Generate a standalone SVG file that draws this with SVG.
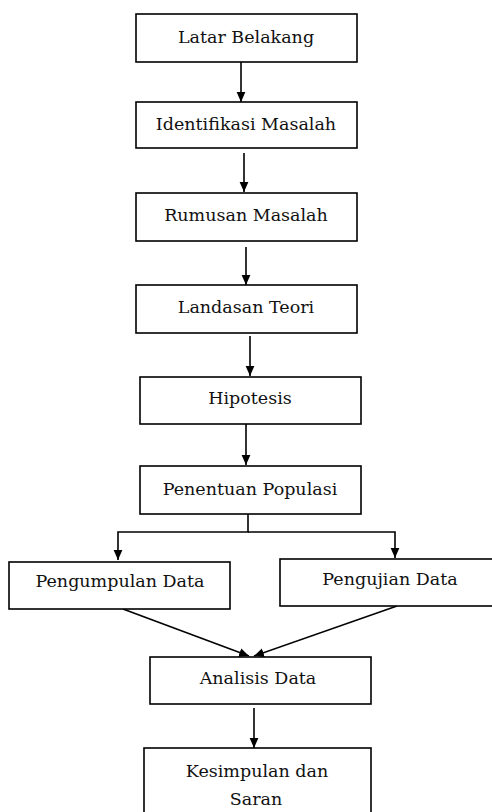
<svg xmlns="http://www.w3.org/2000/svg" width="492" height="812" viewBox="0 0 492 812">
<style>
.box{fill:#fff;stroke:#000;stroke-width:1.6}
.lbl{font-family:"DejaVu Serif","Liberation Serif",serif;font-size:17.5px;fill:#111;text-anchor:middle}
.ln{fill:none;stroke:#000;stroke-width:1.6}
</style>
<defs>
<marker id="ah" markerUnits="userSpaceOnUse" markerWidth="11" markerHeight="11" viewBox="0 0 10 10" refX="9" refY="5" orient="auto">
<path d="M0,1 L9,5 L0,9 Z" fill="#000"/>
</marker>
</defs>
<rect width="492" height="812" fill="#fff"/>
<g id="connectors">
<line class="ln" x1="241" y1="62" x2="241" y2="102" marker-end="url(#ah)"/>
<line class="ln" x1="244" y1="153" x2="244" y2="192" marker-end="url(#ah)"/>
<line class="ln" x1="246" y1="247" x2="246" y2="285" marker-end="url(#ah)"/>
<line class="ln" x1="250" y1="336" x2="250" y2="376" marker-end="url(#ah)"/>
<line class="ln" x1="246" y1="424" x2="246" y2="465" marker-end="url(#ah)"/>
<polyline class="ln" points="248,514 248,532 118,532 118,560" marker-end="url(#ah)"/>
<polyline class="ln" points="248,532 395,532 395,558" marker-end="url(#ah)"/>
<line class="ln" x1="123" y1="609" x2="249" y2="656" marker-end="url(#ah)"/>
<line class="ln" x1="397" y1="606" x2="254" y2="656" marker-end="url(#ah)"/>
<line class="ln" x1="254" y1="708" x2="254" y2="748" marker-end="url(#ah)"/>
</g>
<g id="latar-belakang"><rect class="box" x="136" y="14" width="221" height="48"/><text class="lbl" x="246" y="43">Latar Belakang</text></g>
<g id="identifikasi-masalah"><rect class="box" x="136" y="102" width="221" height="46"/><text class="lbl" x="246" y="130">Identifikasi Masalah</text></g>
<g id="rumusan-masalah"><rect class="box" x="136" y="193" width="221" height="48"/><text class="lbl" x="246" y="221">Rumusan Masalah</text></g>
<g id="landasan-teori"><rect class="box" x="136" y="285" width="221" height="48"/><text class="lbl" x="246" y="313">Landasan Teori</text></g>
<g id="hipotesis"><rect class="box" x="140" y="377" width="221" height="47"/><text class="lbl" x="250" y="404">Hipotesis</text></g>
<g id="penentuan-populasi"><rect class="box" x="140" y="466" width="221" height="48"/><text class="lbl" x="250" y="495">Penentuan Populasi</text></g>
<g id="pengumpulan-data"><rect class="box" x="9" y="562" width="221" height="47"/><text class="lbl" x="120" y="587">Pengumpulan Data</text></g>
<g id="pengujian-data"><rect class="box" x="280" y="559" width="220" height="47"/><text class="lbl" x="390" y="585">Pengujian Data</text></g>
<g id="analisis-data"><rect class="box" x="150" y="657" width="221" height="47"/><text class="lbl" x="258" y="684">Analisis Data</text></g>
<g id="kesimpulan-dan-saran"><rect class="box" x="144" y="748" width="227" height="80"/><text class="lbl" x="257" y="777">Kesimpulan dan</text><text class="lbl" x="256" y="805">Saran</text></g>
</svg>
